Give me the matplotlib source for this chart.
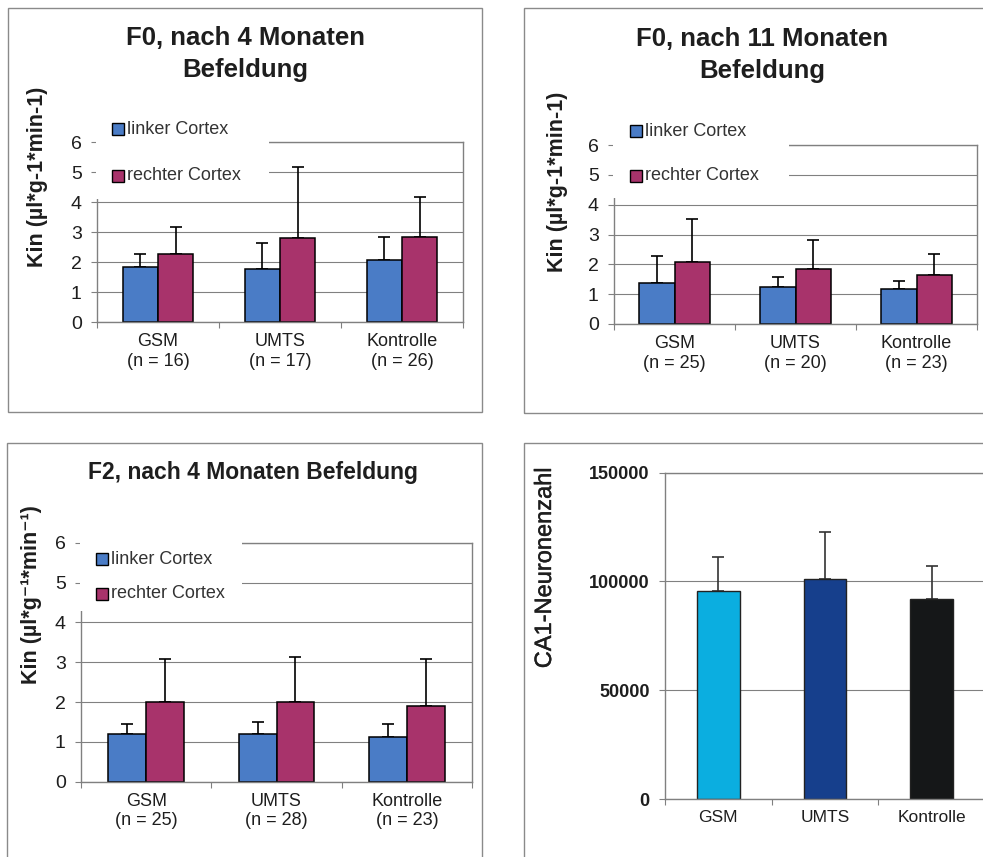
import matplotlib.pyplot as plt
import matplotlib.patheffects as pe
import numpy as np
from matplotlib.patches import Rectangle

W, H = 983, 857

GROUPS = ["GSM", "UMTS", "Kontrolle"]

# F0, 4 Monate
F0_4_N = [16, 17, 26]
F0_4_LEFT = [1.83, 1.77, 2.08]
F0_4_LEFT_SD = [0.45, 0.86, 0.75]
F0_4_RIGHT = [2.28, 2.80, 2.86]
F0_4_RIGHT_SD = [0.89, 2.37, 1.33]

# F0, 11 Monate
F0_11_N = [25, 20, 23]
F0_11_LEFT = [1.39, 1.25, 1.18]
F0_11_LEFT_SD = [0.90, 0.31, 0.26]
F0_11_RIGHT = [2.09, 1.83, 1.64]
F0_11_RIGHT_SD = [1.43, 0.99, 0.71]

# F2, 4 Monate
F2_N = [25, 28, 23]
F2_LEFT = [1.19, 1.19, 1.13]
F2_LEFT_SD = [0.27, 0.32, 0.33]
F2_RIGHT = [2.01, 2.01, 1.91]
F2_RIGHT_SD = [1.07, 1.11, 1.17]

# CA1 Neuronenzahl
CA1_MEAN = [95700, 101200, 92000]
CA1_SD = [15400, 21600, 15300]

BLUE = "#4A7CC6"
RED = "#A8336B"
CA1_COLORS = ["#0BAEE0", "#163F8C", "#151718"]
GRAY = "#808080"
INK = "#1e1e1e"

plt.rcParams["font.family"] = ["Liberation Sans", "DejaVu Sans"]

fig = plt.figure(figsize=(W / 100, H / 100), dpi=100)
fig.patch.set_facecolor("white")


def fx(x):
    return x / W


def fy(y):
    return 1 - y / H


def add_axes_px(x0, x1, ytop, ybot):
    return fig.add_axes([fx(x0), fy(ybot), fx(x1) - fx(x0), (ybot - ytop) / H])


def rect_px(x0, y0, x1, y1, **kw):
    r = Rectangle((fx(x0), fy(y1)), fx(x1) - fx(x0), (y1 - y0) / H,
                  transform=fig.transFigure, **kw)
    fig.add_artist(r)


def frame(x0, y0, x1, y1):
    rect_px(x0, y0, x1, y1, facecolor="none", edgecolor="#8a8a8a", linewidth=1.0, zorder=-1)


def style_axis(ax, ylim, yticks, ylabels, bold_y=False):
    ax.set_xlim(-0.5, 2.5)
    ax.set_ylim(*ylim)
    ax.set_yticks(yticks)
    ax.set_yticklabels(ylabels, fontsize=14 if not bold_y else 13,
                       fontweight="bold" if bold_y else "normal", color=INK)
    ax.yaxis.grid(True, color=GRAY, linewidth=0.8)
    ax.set_axisbelow(True)
    for s in ax.spines.values():
        s.set_color(GRAY)
        s.set_linewidth(1.0)
    ax.tick_params(axis="y", length=4, width=0.8, color=GRAY, pad=7)
    ax.set_xticks([-0.5, 0.5, 1.5, 2.5])
    ax.set_xticklabels([])
    ax.tick_params(axis="x", which="major", length=4, width=0.8, color=GRAY, direction="out")


def cortex_panel(ax, left, left_sd, right, right_sd, ns, label_pad):
    x = np.arange(len(GROUPS))
    w = 0.29
    ax.bar(x - w / 2, left, w, color=BLUE, edgecolor="black", linewidth=1.1, zorder=2)
    ax.bar(x + w / 2, right, w, color=RED, edgecolor="black", linewidth=1.1, zorder=2)
    ax.errorbar(x - w / 2, left, yerr=[np.zeros(3), left_sd], fmt="none", ecolor="black",
                elinewidth=1.2, capsize=4.5, capthick=1.2, zorder=1)
    ax.errorbar(x + w / 2, right, yerr=[np.zeros(3), right_sd], fmt="none", ecolor="black",
                elinewidth=1.2, capsize=4.5, capthick=1.2, zorder=1)
    style_axis(ax, (0, 6), range(7), [str(i) for i in range(7)])
    ax.set_xticks(x, minor=True)
    ax.set_xticklabels([f"{g}\n(n = {n})" for g, n in zip(GROUPS, ns)], minor=True,
                       fontsize=13, linespacing=1.2, color=INK)
    ax.tick_params(axis="x", which="minor", length=0, pad=label_pad)


def legend_px(x_sq, y_blue, y_red, cover):
    rect_px(*cover, facecolor="white", edgecolor="none", zorder=2)
    for yc, col, txt in [(y_blue, BLUE, "linker Cortex"), (y_red, RED, "rechter Cortex")]:
        rect_px(x_sq, yc - 6, x_sq + 12, yc + 6, facecolor=col, edgecolor="black",
                linewidth=1.0, zorder=3)
        fig.text(fx(x_sq + 15), fy(yc), txt, fontsize=13, ha="left", va="center",
                 color="#333333", zorder=4)


# panel frames
frame(8, 8, 482, 412)
frame(524, 8, 985, 413)
frame(7, 443, 482, 862)
frame(524, 443, 990, 862)

# Panel 1
ax1 = add_axes_px(97, 463, 142.3, 322.3)
cortex_panel(ax1, F0_4_LEFT, F0_4_LEFT_SD, F0_4_RIGHT, F0_4_RIGHT_SD, F0_4_N, 8)
legend_px(112, 129, 176, (96, 105, 269, 199))
fig.text(fx(245), fy(54), "F0, nach 4 Monaten\nBefeldung", fontsize=18.5, fontweight="bold",
         ha="center", va="center", linespacing=1.45, color=INK)
fig.text(fx(38), fy(177), "Kin (µl*g-1*min-1)", fontsize=15.5, fontweight="bold",
         rotation=90, ha="center", va="center", color=INK)

# Panel 2
ax2 = add_axes_px(614, 977, 145, 324)
cortex_panel(ax2, F0_11_LEFT, F0_11_LEFT_SD, F0_11_RIGHT, F0_11_RIGHT_SD, F0_11_N, 8)
legend_px(630, 131, 176, (613, 108, 789, 198))
fig.text(fx(762), fy(55), "F0, nach 11 Monaten\nBefeldung", fontsize=18.5, fontweight="bold",
         ha="center", va="center", linespacing=1.45, color=INK)
fig.text(fx(557), fy(182), "Kin (µl*g-1*min-1)", fontsize=15.5, fontweight="bold",
         rotation=90, ha="center", va="center", color=INK)

# Panel 3
ax3 = add_axes_px(81, 472, 542.7, 781.7)
cortex_panel(ax3, F2_LEFT, F2_LEFT_SD, F2_RIGHT, F2_RIGHT_SD, F2_N, 8)
legend_px(96, 559, 594, (80, 535, 242, 611))
fig.text(fx(253), fy(473), "F2, nach 4 Monaten Befeldung", fontsize=16.5, fontweight="bold",
         ha="center", va="center", color=INK)
fig.text(fx(32), fy(595), "Kin (µl*g\u207b\u00b9*min\u207b\u00b9)", fontsize=15.5,
         fontweight="bold", rotation=90, ha="center", va="center", color=INK)

# Panel 4
ax4 = add_axes_px(665, 985, 472.7, 799)
x = np.arange(len(GROUPS))
ax4.bar(x, CA1_MEAN, 0.4, color=CA1_COLORS, edgecolor="#222222", linewidth=1.0, zorder=2)
ax4.errorbar(x, CA1_MEAN, yerr=[np.zeros(3), CA1_SD], fmt="none", ecolor="#333333",
             elinewidth=1.2, capsize=4.5, capthick=1.2, zorder=1)
style_axis(ax4, (0, 150000), [0, 50000, 100000, 150000],
           ["0", "50000", "100000", "150000"], bold_y=True)
ax4.set_xticks(x, minor=True)
ax4.set_xticklabels(GROUPS, minor=True, fontsize=12.5, color=INK)
ax4.tick_params(axis="x", which="minor", length=0, pad=8)
fig.text(fx(545), fy(568), "CA1-Neuronenzahl", fontsize=17, rotation=90,
         ha="center", va="center", color=INK,
         path_effects=[pe.withStroke(linewidth=0.3, foreground=INK)])

fig.savefig("out.png", dpi=100, facecolor="white")
